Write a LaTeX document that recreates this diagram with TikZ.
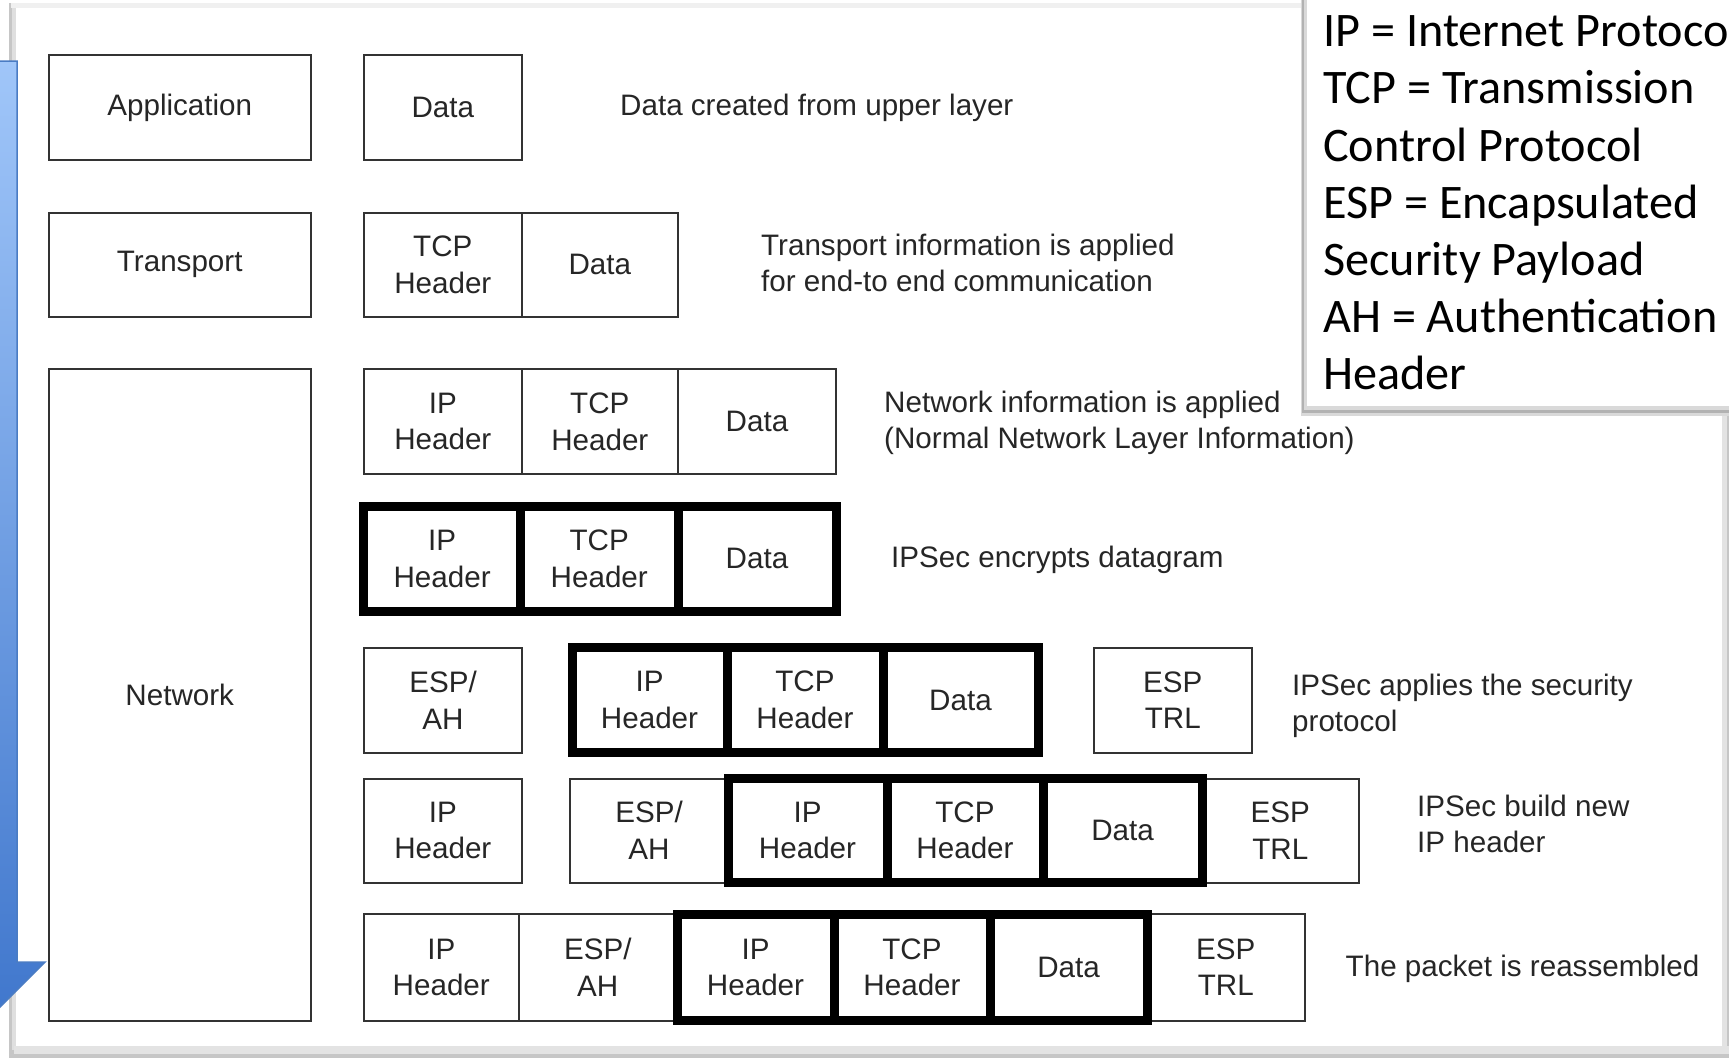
\documentclass[tikz,border=0pt]{standalone}
\usepackage{fontspec}
\setmainfont{Liberation Sans}
\newfontfamily\legendfont{Carlito}
\newcommand\cellfont{\fontsize{29.6}{36.5}\selectfont}
\newcommand\cellbox[7]{\node[#1, minimum width={#5-#3}, minimum height={#6-#4}] (#2) at ({(#3+#5)/2},{(#4+#6)/2}) {#7};}
\definecolor{arrowtop}{HTML}{A0C6F9}
\definecolor{arrowbot}{HTML}{3F76CC}
\definecolor{arrowedge}{HTML}{4A7CC4}
\begin{document}
\begin{tikzpicture}[x=1pt,y=-1pt,
  cell/.style={draw=black!80, line width=2pt, inner sep=0pt, outer sep=0pt, align=center, font=\cellfont, text=black!85},
  boldcell/.style={cell, draw=black, line width=9pt},
  lbl/.style={anchor=base west, inner sep=0pt, font=\cellfont, text=black!85},
  leg/.style={anchor=base west, inner sep=0pt, font=\legendfont\fontsize{48.2}{57}\selectfont, text=black}]
\useasboundingbox (0,0) rectangle (1729,1058);
\clip (0,0) rectangle (1729,1058);
\fill[white] (0,0) rectangle (1729,1058);
% panel with bevelled border
\fill[gray!45] (9,3) rectangle (1729,1058);
\fill[gray!12] (11,3) rectangle (1729,8);
\fill[gray!25] (12,8) rectangle (16,1050);
\fill[gray!22] (14,1046) rectangle (1729,1054);
\fill[gray!22] (1722,8) rectangle (1727,1054);
\fill[white] (16,8) rectangle (1722,1046);
% blue arrow
\shade[top color=arrowtop, bottom color=arrowbot, draw=arrowedge, line width=1.5pt]
  (-60,61) -- (17,61) -- (17,962) -- (45,962) -- (-21.5,1028.5) -- (-88,962) -- (-60,962) -- cycle;
% legend box
\fill[white] (1304,-10) rectangle (1740,411);
\fill[gray!30] (1301,-10) rectangle (1307,414);
\fill[gray!30] (1301,406) rectangle (1740,416);
\draw[gray!60, line width=2.5pt] (1303,-10) -- (1303,411.5) -- (1740,411.5);
\fill[white] (1307,-10) rectangle (1740,406);
\node[leg] (l1) at (1323,46.7) {IP = Internet Protocol};
\node[leg] (l2) at (1323,103.9) {TCP = Transmission};
\node[leg] (l3) at (1323,161.1) {Control Protocol};
\node[leg] (l4) at (1323,218.3) {ESP = Encapsulated};
\node[leg] (l5) at (1323,275.5) {Security Payload};
\node[leg] (l6) at (1323,332.7) {AH = Authentication};
\node[leg] (l7) at (1323,389.9) {Header};
% layers
\cellbox{cell}{app}{48.5}{55}{311}{160}{Application}
\cellbox{cell}{trn}{48.5}{213}{311}{316.5}{Transport}
\cellbox{cell}{net}{48.5}{369.4}{311}{1020.5}{Network}
% row 1
\cellbox{cell}{ra}{364}{55}{521.6}{160}{Data}
% row 2
\cellbox{cell}{rbt}{364}{213}{521.6}{316.5}{TCP\\Header}
\cellbox{cell}{rbd}{521.6}{213}{678}{316.5}{Data}
% row 3
\cellbox{cell}{rci}{364}{369.4}{521.6}{474}{IP\\Header}
\cellbox{cell}{rct}{521.6}{369.4}{678}{474}{TCP\\Header}
\cellbox{cell}{rcd}{678}{369.4}{836}{474}{Data}
% row 4
\cellbox{boldcell}{rdi}{363.7}{506.7}{520.5}{611}{IP\\Header}
\cellbox{boldcell}{rdt}{520.5}{506.7}{678}{611}{TCP\\Header}
\cellbox{boldcell}{rdd}{678}{506.7}{836}{611}{Data}
% row 5
\cellbox{cell}{rea}{364}{648}{522}{752.7}{ESP/\\AH}
\cellbox{boldcell}{rei}{572}{647.5}{727}{752.5}{IP\\Header}
\cellbox{boldcell}{ret}{727}{647.5}{883}{752.5}{TCP\\Header}
\cellbox{boldcell}{red}{883}{647.5}{1038}{752.5}{Data}
\cellbox{cell}{rer}{1094}{648}{1251.6}{752.7}{ESP\\TRL}
% row 6
\cellbox{cell}{rfi}{364}{778.5}{521.6}{882.5}{IP\\Header}
\cellbox{cell}{rfa}{570}{778.5}{728}{882.5}{ESP/\\AH}
\cellbox{cell}{rfr}{1202}{778.5}{1358.5}{882.5}{ESP\\TRL}
\cellbox{boldcell}{rfj}{728}{778.5}{887}{882.5}{IP\\Header}
\cellbox{boldcell}{rft}{887}{778.5}{1043}{882.5}{TCP\\Header}
\cellbox{boldcell}{rfd}{1043}{778.5}{1202}{882.5}{Data}
% row 7
\cellbox{cell}{rgi}{364}{914}{518.5}{1020.5}{IP\\Header}
\cellbox{cell}{rga}{518.5}{914}{677}{1020.5}{ESP/\\AH}
\cellbox{cell}{rgr}{1147}{914}{1304.5}{1020.5}{ESP\\TRL}
\cellbox{boldcell}{rgj}{677}{914}{834}{1020.5}{IP\\Header}
\cellbox{boldcell}{rgt}{834}{914}{990}{1020.5}{TCP\\Header}
\cellbox{boldcell}{rgd}{990}{914}{1147}{1020.5}{Data}
% labels
\node[lbl] (ta) at (620,115.6) {Data created from upper layer};
\node[lbl] (tb1) at (761,255.6) {Transport information is applied};
\node[lbl] (tb2) at (761,291.6) {for end-to end communication};
\node[lbl] (tc1) at (884,412) {Network information is applied};
\node[lbl] (tc2) at (884,448.4) {(Normal Network Layer Information)};
\node[lbl] (td) at (891,567.6) {IPSec encrypts datagram};
\node[lbl] (te1) at (1292,695.4) {IPSec applies the security};
\node[lbl] (te2) at (1292,731.6) {protocol};
\node[lbl] (tf1) at (1417,816) {IPSec build new};
\node[lbl] (tf2) at (1417,852) {IP header};
\node[lbl] (tg) at (1345.5,976.5) {The packet is reassembled};
\end{tikzpicture}
\end{document}
